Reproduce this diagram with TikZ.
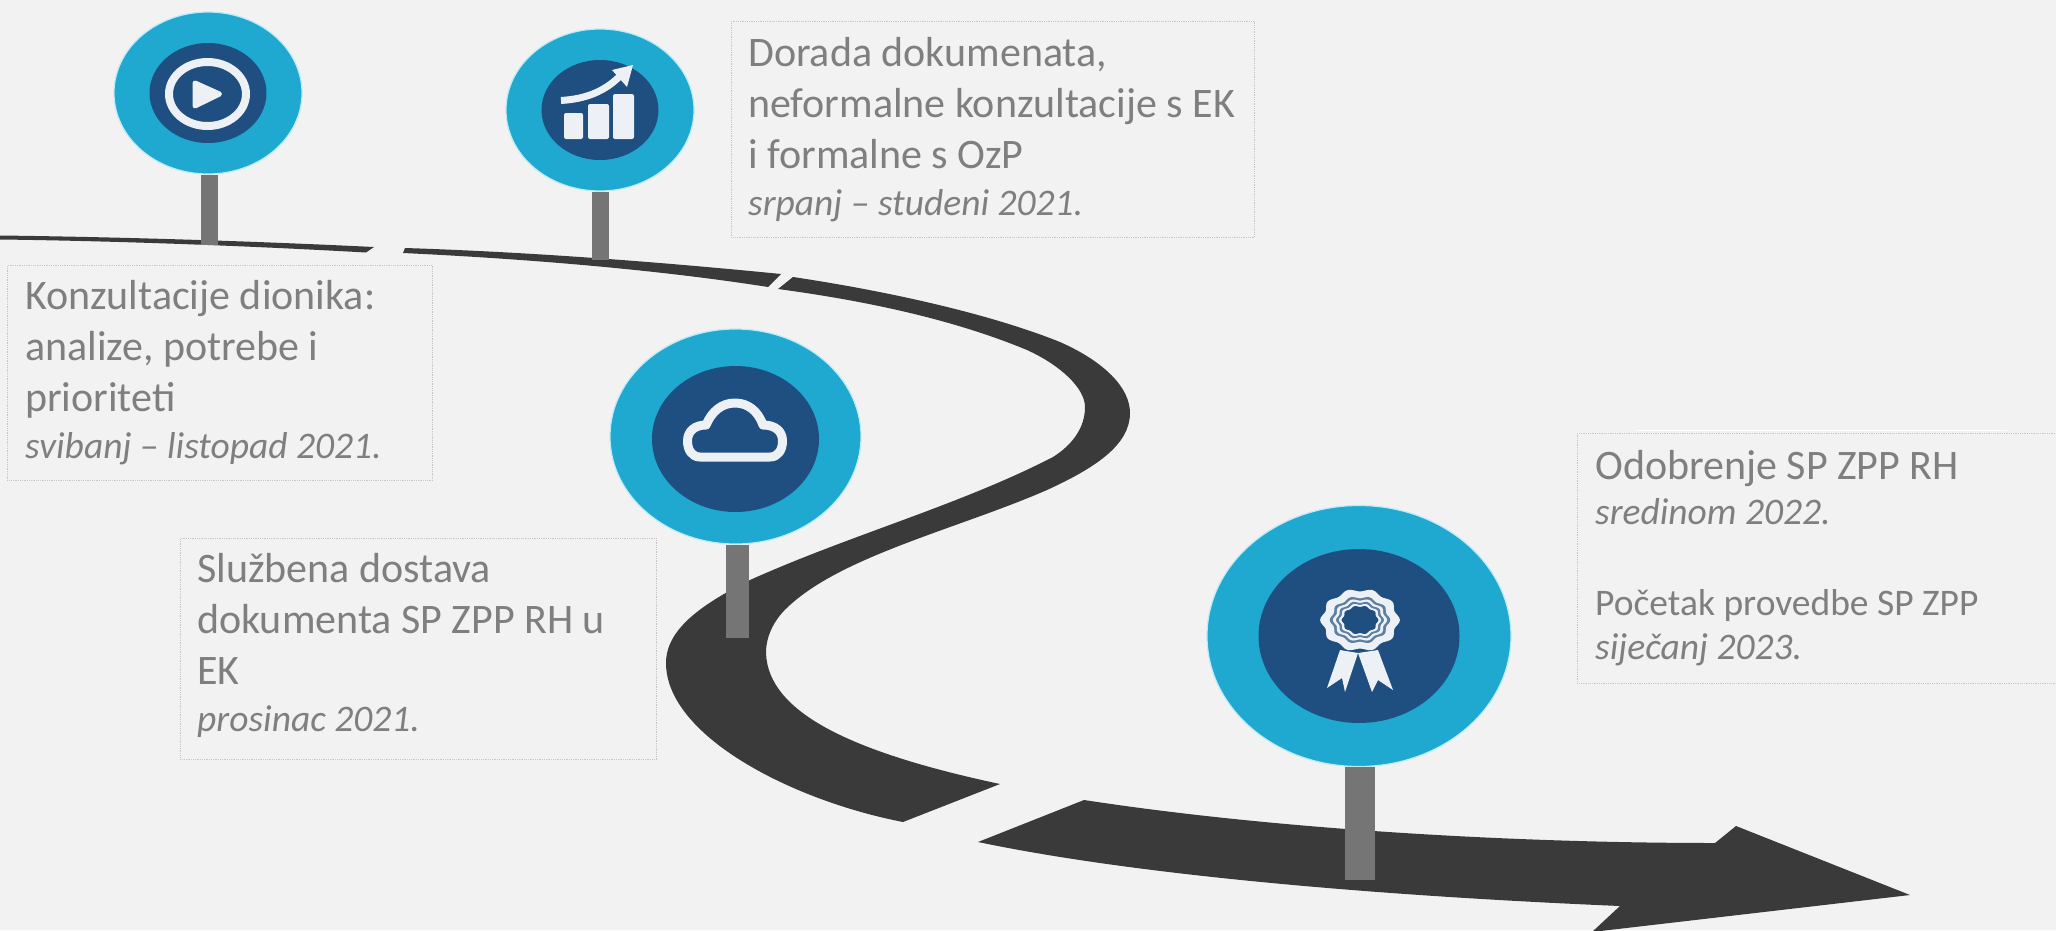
\documentclass[tikz,border=0pt]{standalone}
\usepackage{fontspec}
\setmainfont{Carlito}
\usetikzlibrary{shapes.geometric}
\definecolor{bgc}{HTML}{F2F2F2}
\definecolor{cyanc}{HTML}{1FA8D0}
\definecolor{navyc}{HTML}{1F4E80}
\definecolor{polec}{HTML}{757575}
\definecolor{roadc}{HTML}{3A3A3A}
\definecolor{textc}{HTML}{7F7F7F}
\definecolor{edgec}{HTML}{C6C6C6}
\definecolor{haloc}{HTML}{BDEBF7}
\definecolor{iconc}{HTML}{EDF1F6}
\tikzset{
  road/.style={fill=roadc},
  pin/.style={ellipse,fill=cyanc,draw=haloc,line width=1.2pt,inner sep=0pt},
  core/.style={ellipse,fill=navyc,inner sep=0pt},
  pole/.style={draw=polec,line width=#1},
  infobox/.style={draw=edgec,densely dotted,line width=.8pt,inner sep=0pt,anchor=north west},
  info/.style={text=textc,anchor=north west,inner sep=0pt,align=left,font=\fontsize{42}{51}\selectfont},
  icon/.style={fill=iconc},
  iconline/.style={draw=iconc,line join=round}
}
\newcommand{\dt}[1]{{\fontsize{37.5}{44}\selectfont\itshape #1}}
\newcommand{\sdl}[1]{{\fontsize{37.5}{44}\selectfont #1}}
\newcommand{\scallop}[2]{\fill[#1] plot[domain=0:360,samples=81] ({1360+#2*38*(1+.05*cos(10*\x))*cos(\x)},{620+#2*30*(1+.05*cos(10*\x))*sin(\x)}) -- cycle;}
\begin{document}
\begin{tikzpicture}[x=1pt,y=-1pt]
\useasboundingbox (0,0) rectangle (2056,930);
\fill[bgc] (0,0) rectangle (2056,930);
% road
\fill[road] (0,235.5) .. controls (120,237) and (250,241) .. (374,247) -- (366,252.5)
  .. controls (250,246) and (120,241) .. (0,239.5) -- cycle;
\fill[road] (405,248) .. controls (530,252) and (660,262) .. (781,274) -- (768,287)
  .. controls (660,270) and (530,259) .. (403,253) -- cycle;
\fill[road] (793,277) .. controls (880,290) and (985,312) .. (1060,342)
  .. controls (1105,362) and (1130,388) .. (1130,413)
  .. controls (1130,445) and (1095,468) .. (1047,490)
  .. controls (960,528) and (845,555) .. (790,605)
  .. controls (775,618) and (766,635) .. (766,653)
  .. controls (768,712) and (850,752) .. (1000,784)
  -- (903,822)
  .. controls (790,800) and (666,735) .. (666,663)
  .. controls (666,630) and (700,605) .. (750,580)
  .. controls (850,535) and (960,505) .. (1053,457)
  .. controls (1072,445) and (1085,428) .. (1085,407)
  .. controls (1085,388) and (1060,365) .. (1027,350)
  .. controls (950,318) and (860,300) .. (778,289) -- cycle;
\fill[road] (1084,800) .. controls (1280,830) and (1520,843) .. (1715,843)
  -- (1736,826) -- (1910,895) -- (1592,932) -- (1620,906)
  .. controls (1430,898) and (1160,880) .. (978,842) -- cycle;
% pins
\node[pin,minimum width=188pt,minimum height=162pt] (c1) at (208,93) {};
\node[core,minimum width=117pt,minimum height=100pt] (i1) at (208,93) {};
\node[pin,minimum width=188pt,minimum height=162pt] (c2) at (600,110) {};
\node[core,minimum width=117pt,minimum height=100pt] (i2) at (600,110) {};
\node[pin,minimum width=251pt,minimum height=215pt] (c3) at (735.5,436.5) {};
\node[core,minimum width=167pt,minimum height=146pt] (i3) at (735.5,439) {};
\node[pin,minimum width=304pt,minimum height=261pt] (c4) at (1359,636) {};
\node[core,minimum width=201pt,minimum height=174pt] (i4) at (1359,636) {};
% poles
\coordinate (f1) at (209.5,245);
\coordinate (f2) at (600.5,260);
\coordinate (f3) at (737.5,638);
\coordinate (f4) at (1360,880);
\draw[pole=17pt] (c1.south) ++(1.5,0) -- (f1);
\draw[pole=17pt] (c2.south) ++(.5,0) -- (f2);
\draw[pole=23pt] (c3.south) ++(2,0) -- (f3);
\draw[pole=30pt] (c4.south) ++(1,0) -- (f4);
% play icon
\node[ellipse,draw=iconc,line width=8pt,inner sep=0pt,minimum width=77pt,minimum height=64pt] (ring) at (207.5,94) {};
\filldraw[icon,iconline,line width=5pt] (195,83) -- (219.5,94) -- (195,106) -- cycle;
% chart icon
\fill[icon,rounded corners=2pt] (564,113) rectangle (583,139);
\fill[icon,rounded corners=2pt] (588,104) rectangle (609,139);
\fill[icon,rounded corners=2pt] (613,94) rectangle (634,139);
\draw[iconline,line width=7pt] (561,100.5) .. controls (585,99) and (605,92) .. (622,74);
\fill[icon] (612,70) -- (633,65) -- (627,87) -- cycle;
% cloud icon
\draw[iconline,line width=9pt] (700,457) .. controls (692,457) and (687.5,450) .. (687.5,441)
  .. controls (687.5,431) and (695,425) .. (706,425)
  .. controls (712,411) and (722,403) .. (735,403)
  .. controls (748,403) and (758,411) .. (763,425)
  .. controls (775,425) and (782.5,431) .. (782.5,441)
  .. controls (782.5,450) and (778,457) .. (770,457) -- cycle;
% badge icon
\fill[icon] (1340,650) -- (1358,653) -- (1345,692) -- (1342,678) -- (1327,688) -- cycle;
\fill[icon] (1358,653) -- (1378,650) -- (1393,690) -- (1378,680) -- (1372,692) -- cycle;
\scallop{iconc}{1}
\scallop{navyc!70!iconc}{.76}
\scallop{iconc}{.68}
\scallop{navyc!70!iconc}{.60}
\scallop{iconc}{.53}
\scallop{navyc}{.46}
% text boxes
\node[infobox,minimum width=425pt,minimum height=215pt] (b1) at (7,265) {};
\node[info] (t1) at (25,280) {Konzultacije dionika:\\analize, potrebe i\\prioriteti\\[-4pt]\dt{svibanj – listopad 2021.}};
\node[infobox,minimum width=523pt,minimum height=216pt] (b2) at (731,21) {};
\node[info] (t2) at (748,37) {Dorada dokumenata,\\neformalne konzultacije s EK\\i formalne s OzP\\[-4pt]\dt{srpanj – studeni 2021.}};
\node[infobox,minimum width=476pt,minimum height=221pt] (b3) at (180,538) {};
\node[info] (t3) at (197,553) {Službena dostava\\dokumenta SP ZPP RH u\\EK\\[-4pt]\dt{prosinac 2021.}};
\node[infobox,minimum width=490pt,minimum height=250pt] (b4) at (1577,433) {};
\node[info] (t4) at (1595,450) {Odobrenje SP ZPP RH\\[-6pt]\dt{sredinom 2022.}\\[40pt]\sdl{Početak provedbe SP ZPP}\\[-7pt]\dt{siječanj 2023.}};
\draw[white,line width=1pt] (1637,430) -- (2007,430);
\end{tikzpicture}
\end{document}
